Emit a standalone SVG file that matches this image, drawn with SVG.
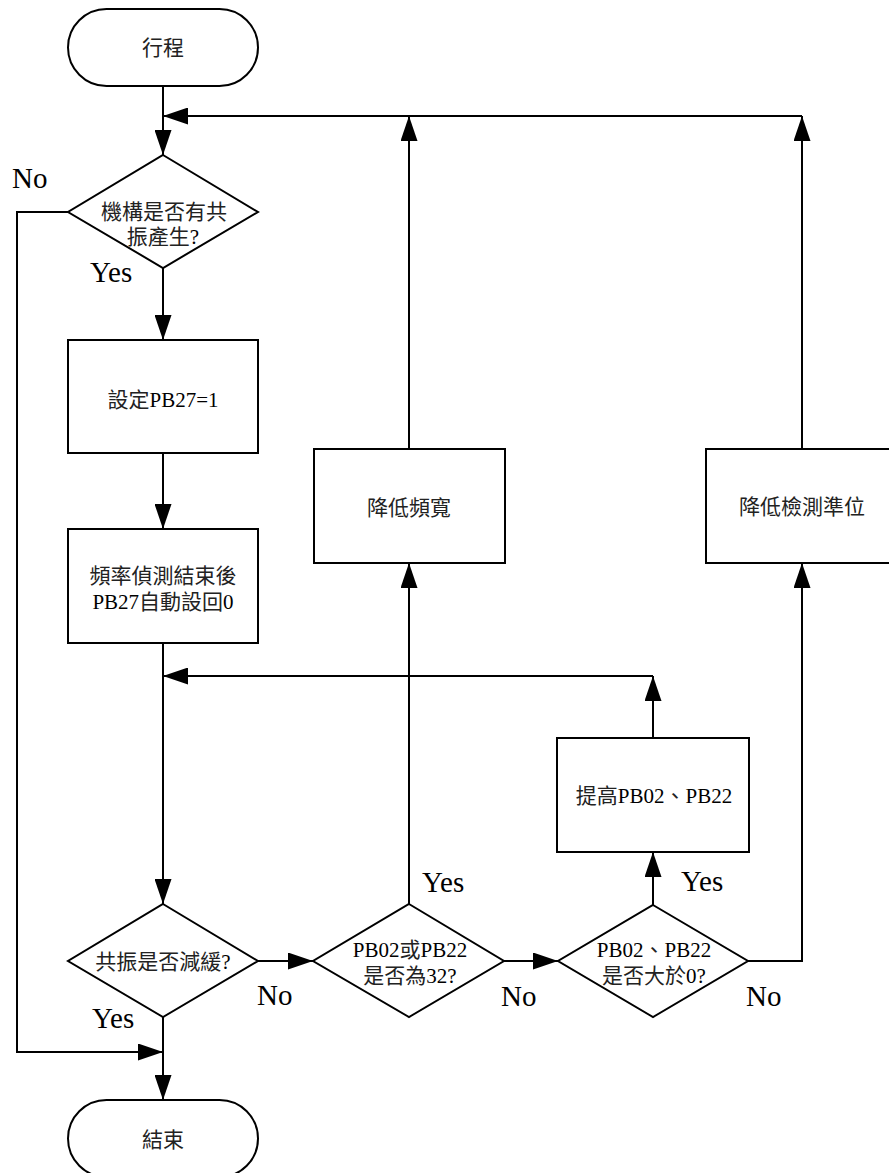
<svg xmlns="http://www.w3.org/2000/svg" width="889" height="1173" viewBox="0 0 889 1173">
  <style>
    .shape { fill: #fff; stroke: #000; stroke-width: 2; }
    .wire { fill: none; stroke: #000; stroke-width: 2; }
    .txt { font-family: "Liberation Serif", "Noto Sans CJK TC", serif; font-size: 21px; fill: #222; text-anchor: middle; dominant-baseline: central; }
    .lat { font-family: "Liberation Serif", serif; fill: #000; }
    .lbl { font-family: "Liberation Serif", serif; font-size: 29px; fill: #000; }
  </style>
  <defs>
    <marker id="arrow" viewBox="0 0 25 17" markerWidth="25" markerHeight="17" refX="25" refY="8.5" orient="auto" markerUnits="userSpaceOnUse">
      <path d="M0,0 L25,8.5 L0,17 z" fill="#000"/>
    </marker>
  </defs>

  <!-- connectors -->
  <g id="connectors">
    <path class="wire" d="M163,86 V155" marker-end="url(#arrow)"/>
    <path class="wire" d="M409,449 V116" marker-end="url(#arrow)"/>
    <path class="wire" d="M802,449 V116" marker-end="url(#arrow)"/>
    <path class="wire" d="M802,116 H163" marker-end="url(#arrow)"/>
    <path class="wire" d="M163,268 V340" marker-end="url(#arrow)"/>
    <path class="wire" d="M163,453 V529" marker-end="url(#arrow)"/>
    <path class="wire" d="M163,643 V904" marker-end="url(#arrow)"/>
    <path class="wire" d="M653,738 V676" marker-end="url(#arrow)"/>
    <path class="wire" d="M653,676 H163" marker-end="url(#arrow)"/>
    <path class="wire" d="M68,212 H17 V1052 H163" marker-end="url(#arrow)"/>
    <path class="wire" d="M163,1017 V1100" marker-end="url(#arrow)"/>
    <path class="wire" d="M258,961 H313" marker-end="url(#arrow)"/>
    <path class="wire" d="M504,961 H558" marker-end="url(#arrow)"/>
    <path class="wire" d="M409,904 V563" marker-end="url(#arrow)"/>
    <path class="wire" d="M653,905 V852" marker-end="url(#arrow)"/>
    <path class="wire" d="M748,961 H802 V563" marker-end="url(#arrow)"/>
  </g>

  <!-- branch labels -->
  <g id="labels">
    <text class="lbl" x="12" y="188">No</text>
    <text class="lbl" x="90" y="282">Yes</text>
    <text class="lbl" x="92" y="1028">Yes</text>
    <text class="lbl" x="257" y="1005">No</text>
    <text class="lbl" x="422" y="892">Yes</text>
    <text class="lbl" x="501" y="1006">No</text>
    <text class="lbl" x="681" y="891">Yes</text>
    <text class="lbl" x="746" y="1006">No</text>
  </g>

  <!-- nodes -->
  <g id="start">
    <rect class="shape" x="68" y="9" width="190" height="77" rx="38.5"/>
    <text class="txt" x="163" y="48">行程</text>
  </g>
  <g id="check-resonance">
    <polygon class="shape" points="163,155 258,212 163,268 68,212"/>
    <text class="txt" x="164" y="212">機構是否有共</text>
    <text class="txt" x="163" y="237">振產生<tspan class="lat">?</tspan></text>
  </g>
  <g id="set-pb27">
    <rect class="shape" x="68" y="340" width="190" height="113"/>
    <text class="txt" x="163" y="400">設定<tspan class="lat">PB27=1</tspan></text>
  </g>
  <g id="auto-reset">
    <rect class="shape" x="68" y="529" width="190" height="114"/>
    <text class="txt" x="163" y="576">頻率偵測結束後</text>
    <text class="txt" x="163" y="602"><tspan class="lat">PB27</tspan>自動設回<tspan class="lat">0</tspan></text>
  </g>
  <g id="check-reduced">
    <polygon class="shape" points="163,904 258,961 163,1017 68,961"/>
    <text class="txt" x="163" y="962">共振是否減緩<tspan class="lat">?</tspan></text>
  </g>
  <g id="check-32">
    <polygon class="shape" points="409,904 504,961 409,1017 313,961"/>
    <text class="txt" x="410" y="950"><tspan class="lat">PB02</tspan>或<tspan class="lat">PB22</tspan></text>
    <text class="txt" x="410" y="976">是否為<tspan class="lat">32?</tspan></text>
  </g>
  <g id="check-positive">
    <polygon class="shape" points="653,905 748,961 653,1017 558,961"/>
    <text class="txt" x="654" y="950"><tspan class="lat">PB02</tspan>、<tspan class="lat">PB22</tspan></text>
    <text class="txt" x="654" y="976">是否大於<tspan class="lat">0?</tspan></text>
  </g>
  <g id="raise-gain">
    <rect class="shape" x="557" y="738" width="192" height="114"/>
    <text class="txt" x="654" y="796">提高<tspan class="lat">PB02</tspan>、<tspan class="lat">PB22</tspan></text>
  </g>
  <g id="lower-bandwidth">
    <rect class="shape" x="314" y="449" width="191" height="114"/>
    <text class="txt" x="409" y="508">降低頻寬</text>
  </g>
  <g id="lower-level">
    <rect class="shape" x="706" y="449" width="192" height="114"/>
    <text class="txt" x="802" y="507">降低檢測準位</text>
  </g>
  <g id="end">
    <rect class="shape" x="68" y="1100" width="190" height="77" rx="38.5"/>
    <text class="txt" x="163" y="1140">結束</text>
  </g>
</svg>
